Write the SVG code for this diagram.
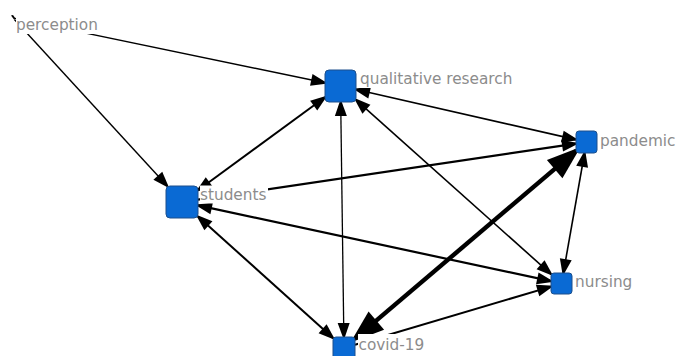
<svg xmlns="http://www.w3.org/2000/svg" width="676" height="356" viewBox="0 0 676 356">
<style>
.e{stroke:#000;fill:none;stroke-linecap:butt}
.n{fill:#0a6ad4;stroke:#1c4f8c;stroke-width:1}
.t{font-family:"DejaVu Sans",Verdana,sans-serif;font-size:15.3px;fill:#8c8c8c}
.bg{fill:#fff}
</style>
<defs>
<marker id="a" markerUnits="userSpaceOnUse" viewBox="-15 -7 19 14" refX="0" refY="0" markerWidth="19" markerHeight="14" orient="auto-start-reverse"><path d="M3,0 L-14,-6 L-14,6 Z" fill="#000"/></marker>
<marker id="b" markerUnits="userSpaceOnUse" viewBox="-29 -13 36 26" refX="0" refY="0" markerWidth="36" markerHeight="26" orient="auto-start-reverse"><path d="M6,0 L-28,-12 L-28,12 Z" fill="#000"/></marker>
</defs>
<rect width="676" height="356" fill="#fff"/>
<g id="connectors">
<line class="e" x1="15" y1="18.4" x2="325" y2="82.8" stroke-width="1.4" marker-end="url(#a)"/>
<line class="e" x1="14.4" y1="19.5" x2="167.3" y2="186" stroke-width="1.4" marker-end="url(#a)"/>
<line class="e" x1="198" y1="190.3" x2="325" y2="97.3" stroke-width="2" marker-start="url(#a)" marker-end="url(#a)"/>
<line class="e" x1="198" y1="216.4" x2="333" y2="338.1" stroke-width="2" marker-start="url(#a)" marker-end="url(#a)"/>
<line class="e" x1="198" y1="199.6" x2="576" y2="143.6" stroke-width="2.2" marker-end="url(#a)"/>
<line class="e" x1="551" y1="281.2" x2="198" y2="205.4" stroke-width="2.2" marker-start="url(#a)" marker-end="url(#a)"/>
<line class="e" x1="340.7" y1="102" x2="343.85" y2="337" stroke-width="1.3" marker-start="url(#a)" marker-end="url(#a)"/>
<line class="e" x1="356" y1="89.5" x2="576" y2="139.6" stroke-width="1.6" marker-start="url(#a)" marker-end="url(#a)"/>
<line class="e" x1="356" y1="99.85" x2="551" y2="274.1" stroke-width="1.6" marker-start="url(#a)" marker-end="url(#a)"/>
<line class="e" x1="355" y1="338.66" x2="576" y2="150.9" stroke-width="4.4" marker-start="url(#b)" marker-end="url(#b)"/>
<line class="e" x1="584.56" y1="153" x2="563.35" y2="273" stroke-width="1.6" marker-start="url(#a)" marker-end="url(#a)"/>
<line class="e" x1="355" y1="344.74" x2="551" y2="286.6" stroke-width="2" marker-end="url(#a)"/>
</g>
<g id="node-perception">
<path d="M11,15.5 L13,15 L15.5,18.5 L14,19.5 Z" fill="#000"/>
<rect class="bg" x="16" y="17" width="83" height="17"/>
<text class="t" x="16" y="30">perception</text>
</g>
<g id="node-qualitative-research">
<rect class="n" x="325" y="70" width="31" height="32" rx="4"/>
<rect class="bg" x="359" y="70" width="158" height="18"/>
<text class="t" x="360" y="84">qualitative research</text>
</g>
<g id="node-students">
<rect class="n" x="166" y="186" width="32" height="32" rx="4"/>
<rect class="bg" x="200" y="185.5" width="68" height="18"/>
<text class="t" x="200" y="199.5">students</text>
</g>
<g id="node-pandemic">
<rect class="n" x="576" y="131" width="21" height="22" rx="3"/>
<rect class="bg" x="599" y="131" width="77" height="18"/>
<text class="t" x="600" y="145.5">pandemic</text>
</g>
<g id="node-nursing">
<rect class="n" x="551" y="273" width="21" height="21" rx="3"/>
<rect class="bg" x="574" y="272" width="60" height="19"/>
<text class="t" x="575" y="287">nursing</text>
</g>
<g id="node-covid-19">
<rect class="n" x="333" y="337" width="22" height="22" rx="3"/>
<rect class="bg" x="358" y="334" width="68" height="22"/>
<text class="t" x="358.5" y="350">covid-19</text>
</g>
</svg>
